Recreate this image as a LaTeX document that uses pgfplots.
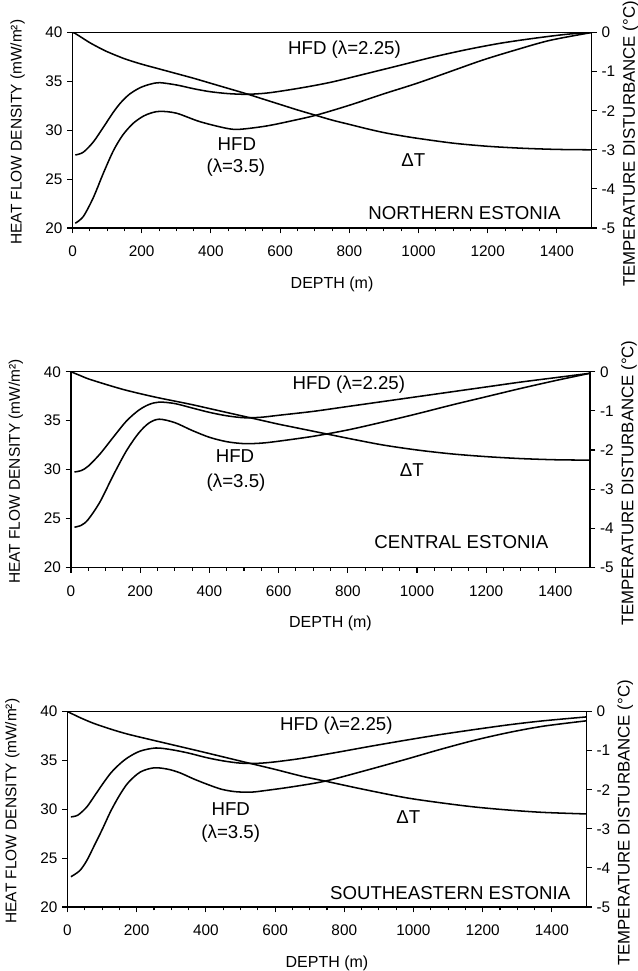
\documentclass[border=0pt]{standalone}
\usepackage{pgfplots}
\pgfplotsset{compat=1.18}
\usepackage{fontspec}
\setmainfont{Liberation Sans}

\newcommand{\tickfont}{\fontsize{11.5}{13}\selectfont}
\newcommand{\labfont}{\fontsize{11.6}{13}\selectfont}
\newcommand{\rlabfont}{\fontsize{12.6}{14}\selectfont}
\newcommand{\annfont}{\fontsize{14}{16}\selectfont}

\pgfplotsset{
  common/.style={
    scale only axis, width=389.25pt, height=146.6pt,
    xmin=0, xmax=1500,
    tick align=outside,
    major tick length=4pt, minor tick length=2.5pt,
    axis line style={line width=0.9pt},
    every tick/.style={black, line width=0.8pt},
    tick label style={font=\tickfont},
    /pgf/number format/1000 sep={},
    /pgf/number format/assume math mode=true,
  },
  panel/.style={
    common,
    ymin=20, ymax=40,
    xtick={0,200,...,1400}, minor x tick num=3,
    ytick={20,25,...,40},
    xtick pos=bottom, ytick pos=left,
    xticklabel shift=6pt,
    xlabel={DEPTH (m)},
    ylabel={HEAT FLOW DENSITY (mW/m²)},
    every axis x label/.style={at={(axis description cs:0.5,-0.286)}, anchor=center, font=\fontsize{12}{14}\selectfont},
    every axis y label/.style={at={(axis description cs:-0.106,0.49)}, rotate=90, anchor=center, font=\labfont},
  },
  twin/.style={
    common,
    ymin=-5, ymax=0,
    hide x axis, axis y line*=right,
    ytick={-5,-4,...,0},
    ylabel={TEMPERATURE DISTURBANCE (°C)},
    every axis y label/.style={at={(axis description cs:1.075,0.43)}, rotate=90, anchor=center, font=\rlabfont},
  },
  curve/.style={black, line width=1.15pt, smooth, no markers},
}

\begin{document}
\begin{tikzpicture}
\path[use as bounding box] (0,0) rectangle (478.5pt,728.25pt);

% ---------------- (a) NORTHERN ESTONIA ----------------
\begin{axis}[panel, at={(54.4pt,557.25pt)}, anchor=south west]
\addplot[curve] coordinates {(8,27.47) (31,27.75) (60,28.8) (89,30.3) (118,31.85) (140,32.85) (165,33.7) (195,34.35) (225,34.72) (252,34.87) (301,34.63) (350,34.25) (397,33.95) (450,33.75) (503,33.68) (560,33.8) (620,34.1) (687,34.5) (754,34.97) (850,35.8) (947,36.65) (1043,37.5) (1139,38.25) (1236,38.9) (1332,39.4) (1428,39.82) (1500,40.0)};
\addplot[curve] coordinates {(8,20.49) (31,21.17) (60,23.1) (89,25.6) (118,27.9) (145,29.5) (175,30.7) (205,31.45) (230,31.8) (255,31.94) (301,31.74) (368,30.88) (445,30.2) (484,30.1) (561,30.44) (638,31.0) (706,31.56) (802,32.58) (898,33.71) (995,34.8) (1091,36.0) (1187,37.2) (1284,38.25) (1380,39.2) (1500,40.0)};
\node[font=\annfont] at (axis cs:786,38.25) {HFD (λ=2.25)};
\node[font=\annfont] at (axis cs:475,28.6) {HFD};
\node[font=\annfont] at (axis cs:472,26.15) {(λ=3.5)};
\node[font=\annfont] at (axis cs:985,26.9) {ΔT};
\node[font=\annfont, anchor=east] at (axis cs:1424,21.55) {NORTHERN ESTONIA};
\node[font=\fontsize{13.5}{15}\selectfont] at (axis description cs:0.032,1.084) {(a)};
\end{axis}
\begin{axis}[twin, at={(54.4pt,557.25pt)}, anchor=south west]
\addplot[curve] coordinates {(0,0) (7,-0.02) (25,-0.12) (50,-0.26) (75,-0.38) (100,-0.49) (150,-0.67) (200,-0.81) (250,-0.93) (300,-1.05) (350,-1.17) (400,-1.30) (450,-1.43) (500,-1.56) (550,-1.70) (600,-1.84) (650,-1.98) (700,-2.11) (750,-2.24) (800,-2.35) (850,-2.46) (900,-2.56) (950,-2.64) (1000,-2.71) (1100,-2.83) (1200,-2.91) (1300,-2.96) (1400,-2.99) (1500,-3.0)};
\end{axis}

% ---------------- (b) CENTRAL ESTONIA ----------------
\begin{axis}[panel, at={(53.25pt,302.8pt)}, anchor=south west]
\addplot[curve] coordinates {(10,29.75) (30,29.9) (50,30.35) (84,31.6) (122,33.3) (160,34.95) (195,36.05) (225,36.65) (255,36.9) (300,36.75) (350,36.3) (400,35.85) (450,35.5) (500,35.3) (550,35.35) (600,35.55) (700,35.95) (800,36.45) (900,36.95) (1000,37.45) (1100,37.95) (1200,38.45) (1300,38.95) (1400,39.4) (1500,39.85)};
\addplot[curve] coordinates {(10,24.1) (30,24.3) (50,24.9) (84,26.7) (122,29.4) (160,31.9) (195,33.7) (225,34.75) (255,35.15) (300,34.8) (350,34.0) (400,33.3) (450,32.85) (500,32.65) (550,32.7) (600,32.9) (700,33.4) (800,34.05) (900,34.85) (1000,35.7) (1100,36.6) (1200,37.45) (1300,38.3) (1400,39.1) (1500,39.85)};
\node[font=\annfont] at (axis cs:803,38.7) {HFD (λ=2.25)};
\node[font=\annfont] at (axis cs:474,31.35) {HFD};
\node[font=\annfont] at (axis cs:477,28.7) {(λ=3.5)};
\node[font=\annfont] at (axis cs:985,29.9) {ΔT};
\node[font=\annfont, anchor=east] at (axis cs:1393,22.6) {CENTRAL ESTONIA};
\node[font=\fontsize{13.5}{15}\selectfont] at (axis description cs:0.034,1.087) {(b)};
\end{axis}
\begin{axis}[twin, at={(53.25pt,302.8pt)}, anchor=south west]
\addplot[curve] coordinates {(0,0) (25,-0.09) (50,-0.18) (100,-0.32) (150,-0.45) (200,-0.56) (250,-0.66) (300,-0.75) (350,-0.84) (400,-0.94) (450,-1.04) (500,-1.14) (550,-1.24) (600,-1.34) (650,-1.43) (700,-1.52) (750,-1.61) (800,-1.7) (900,-1.87) (1000,-2.0) (1100,-2.1) (1200,-2.17) (1300,-2.22) (1400,-2.25) (1500,-2.26)};
\end{axis}

% ---------------- (c) SOUTHEASTERN ESTONIA ----------------
\begin{axis}[panel, at={(50.6pt,48pt)}, anchor=south west]
\addplot[curve] coordinates {(10,29.22) (30,29.4) (55,30.2) (75,31.2) (100,32.5) (125,33.7) (150,34.6) (175,35.3) (210,35.95) (255,36.27) (300,36.1) (350,35.75) (400,35.3) (450,34.95) (500,34.72) (550,34.7) (600,34.85) (675,35.2) (775,35.8) (875,36.44) (975,37.05) (1075,37.63) (1175,38.15) (1275,38.64) (1375,39.05) (1500,39.45)};
\addplot[curve] coordinates {(10,23.1) (35,23.7) (55,24.7) (75,26.1) (100,27.9) (125,29.8) (150,31.4) (175,32.7) (210,33.8) (250,34.24) (290,34.1) (325,33.73) (365,33.1) (405,32.54) (445,32.05) (485,31.8) (530,31.75) (575,31.93) (650,32.3) (745,32.88) (860,33.95) (975,35.08) (1075,36.1) (1175,37.05) (1275,37.85) (1375,38.5) (1500,39.05)};
\node[font=\annfont] at (axis cs:777,38.58) {HFD (λ=2.25)};
\node[font=\annfont] at (axis cs:472,30.0) {HFD};
\node[font=\annfont] at (axis cs:472,27.46) {(λ=3.5)};
\node[font=\annfont] at (axis cs:985,29.15) {ΔT};
\node[font=\annfont, anchor=east] at (axis cs:1467,21.45) {SOUTHEASTERN ESTONIA};
\node[font=\fontsize{13.5}{15}\selectfont] at (axis description cs:0.034,1.082) {(c)};
\end{axis}
\begin{axis}[twin, at={(50.6pt,48pt)}, anchor=south west]
\addplot[curve] coordinates {(0,0) (35,-0.15) (75,-0.3) (125,-0.45) (175,-0.58) (255,-0.75) (375,-1.0) (450,-1.16) (520,-1.31) (600,-1.48) (680,-1.66) (745,-1.78) (850,-1.98) (975,-2.2) (1075,-2.33) (1175,-2.44) (1275,-2.52) (1375,-2.58) (1500,-2.62)};
\end{axis}
\end{tikzpicture}
\end{document}
